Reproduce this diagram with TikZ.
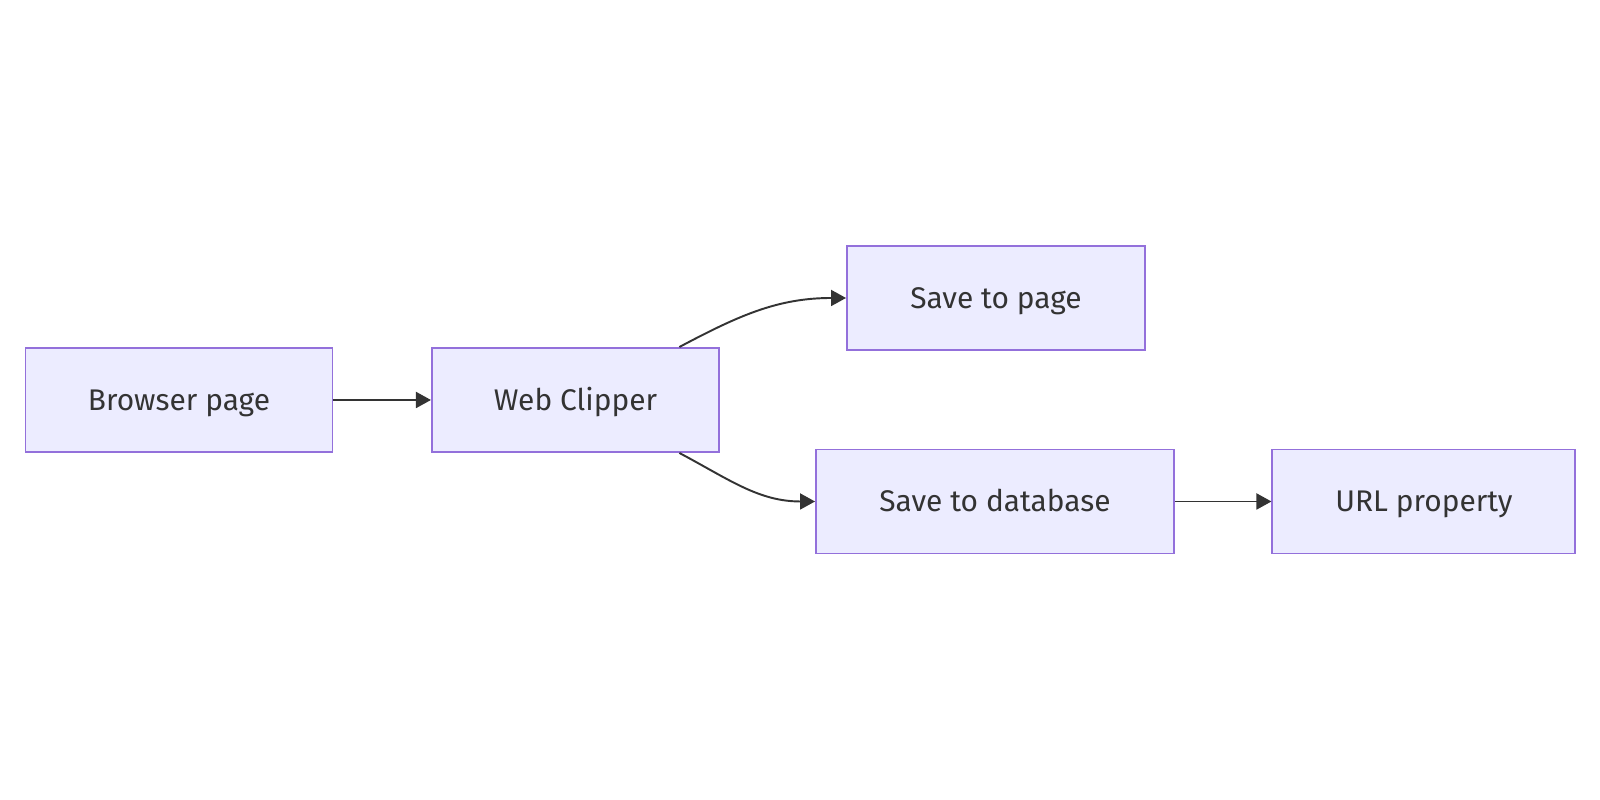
\documentclass[tikz,border=0pt]{standalone}
\usepackage{fontspec}
\setmainfont{Fira Sans}
\usetikzlibrary{shapes,arrows.meta,positioning,calc}
\definecolor{boxfill}{HTML}{ECECFF}
\definecolor{boxline}{HTML}{9370DB}
\definecolor{inkcolor}{HTML}{333333}

\begin{document}
\begin{tikzpicture}[
    node distance=1.95cm,
    every node/.style={font=\fontsize{17}{20}\selectfont, text=inkcolor},
    block/.style={
        rectangle, fill=boxfill, draw=boxline, line width=1.1pt,
        minimum height=2.08cm, inner sep=0pt,
        text height=14pt, text depth=2.4pt
    },
    arrow/.style={-{Triangle[length=0.3cm,width=0.32cm]}, draw=inkcolor, line width=1.1pt}
]

\useasboundingbox (0,0) rectangle (32,16);

% Source
\node[block, minimum width=6.14cm] (browser) at (3.58,8) {Browser page};
\node[block, minimum width=5.74cm, right=of browser] (clipper) {Web Clipper};

% Targets
\node[block, minimum width=5.96cm] (savepage) at (19.92,10.04) {Save to page};
\node[block, minimum width=7.16cm] (savedb) at (19.9,5.97) {Save to database};
\node[block, minimum width=6.06cm, right=1.93cm of savedb] (url) {URL property};

% Arrows
\draw[arrow] (browser) -- (clipper);
\draw[arrow] (clipper.27) to[out=28, in=180] (savepage.west);
\draw[arrow] (clipper.-27) to[out=-28, in=180] (savedb.west);
\draw[arrow] (savedb) -- (url);

\end{tikzpicture}
\end{document}
